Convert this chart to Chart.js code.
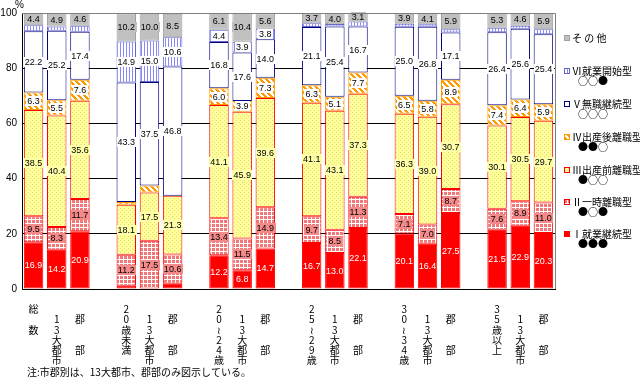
<!DOCTYPE html>
<html>
<head>
<meta charset="utf-8">
<script src="https://cdn.jsdelivr.net/npm/chart.js@4.4.0/dist/chart.umd.min.js"></script>
<style>
  html, body { margin: 0; padding: 0; background: #fff; }
  #wrap { width: 640px; height: 377px; position: relative; }
</style>
</head>
<body>
<div id="wrap"><canvas id="c" width="640" height="377"></canvas></div>
<script>
// 区分 (縦書きラベル, 3本ずつ6グループ)
const categories = [
  ['総', '', '数'], ['', '1', '3', '大', '都', '市'], ['', '郡', '', '', '部'],
  ['2', '0', '歳', '未', '満'], ['', '1', '3', '大', '都', '市'], ['', '郡', '', '', '部'],
  ['2', '0', '≀', '2', '4', '歳'], ['', '1', '3', '大', '都', '市'], ['', '郡', '', '', '部'],
  ['2', '5', '≀', '2', '9', '歳'], ['', '1', '3', '大', '都', '市'], ['', '郡', '', '', '部'],
  ['3', '0', '≀', '3', '4', '歳'], ['', '1', '3', '大', '都', '市'], ['', '郡', '', '', '部'],
  ['3', '5', '歳', '以', '上'], ['', '1', '3', '大', '都', '市'], ['', '郡', '', '', '部']
];
const yTicks = [0, 20, 40, 60, 80, 100];

// 系列 (下から)
const type1 = [16.9, 14.2, 20.9, 1.2, 0.0, 1.9, 12.2, 6.8, 14.7, 16.7, 13.0, 22.1, 20.1, 16.4, 27.5, 21.5, 22.9, 20.3];
const type2 = [9.5, 8.3, 11.7, 11.2, 17.5, 10.6, 13.4, 11.5, 14.9, 9.7, 8.5, 11.3, 7.1, 7.0, 8.7, 7.6, 8.9, 11.0];
const type3 = [38.5, 40.4, 35.6, 18.1, 17.5, 21.3, 41.1, 45.9, 39.6, 41.1, 43.1, 37.3, 36.3, 39.0, 30.7, 30.1, 30.5, 29.7];
const type4 = [6.3, 5.5, 7.6, 1.0, 2.5, 0.0, 6.0, 3.9, 7.3, 6.3, 5.1, 7.7, 6.5, 5.8, 8.9, 7.4, 6.4, 5.9];
const type5 = [22.2, 25.2, 17.4, 43.3, 37.5, 46.8, 16.8, 17.6, 14.0, 21.1, 25.4, 16.7, 25.0, 26.8, 17.1, 26.4, 25.6, 25.4];
const type6 = [2.2, 1.5, 2.2, 14.9, 15.0, 10.6, 4.4, 3.9, 3.8, 1.4, 0.9, 1.8, 1.1, 0.9, 1.2, 1.7, 1.1, 1.8];
const other = [4.4, 4.9, 4.6, 10.2, 10.0, 8.5, 6.1, 10.4, 5.6, 3.7, 4.0, 3.1, 3.9, 4.1, 5.9, 5.3, 4.6, 5.9];

const seriesNames = ['Ⅰ就業継続型', 'Ⅱ一時離職型', 'Ⅲ出産前離職型', 'Ⅳ出産後離職型', 'Ⅴ無職継続型', 'Ⅵ就業開始型', 'そ の 他'];
const seriesMarks = ['●●●', '●○●', '●○○', '●●○', '○○○', '○○●', ''];

// グループの間に空きを入れる
function withGaps(arr, blank) {
  const out = [];
  arr.forEach((v, i) => {
    if (i > 0 && i % 3 === 0) out.push(blank);
    out.push(v);
  });
  return out;
}

function makePattern(w, h, draw) {
  const t = document.createElement('canvas');
  t.width = w; t.height = h;
  const g = t.getContext('2d');
  draw(g);
  return g.createPattern(t, 'repeat');
}

const patGrid = makePattern(4, 4, g => {
  g.fillStyle = '#f07878'; g.fillRect(0, 0, 4, 4);
  g.fillStyle = '#ffffff'; g.fillRect(0, 3, 4, 1); g.fillRect(3, 0, 1, 4);
});
const patDots = makePattern(4, 4, g => {
  g.fillStyle = '#ffff99'; g.fillRect(0, 0, 4, 4);
  g.fillStyle = '#e8dc78'; g.fillRect(0, 0, 1, 1); g.fillRect(2, 2, 1, 1);
});
const patDiag = makePattern(6, 6, g => {
  g.fillStyle = '#ffffff'; g.fillRect(0, 0, 6, 6);
  g.fillStyle = '#ff9900';
  for (let y = 0; y < 6; y++) for (let x = 0; x < 6; x++) {
    if (((x - y) % 6 + 6) % 6 < 3) g.fillRect(x, y, 1, 1);
  }
});
const patVert = makePattern(3, 1, g => {
  g.fillStyle = '#ffffff'; g.fillRect(0, 0, 3, 1);
  g.fillStyle = '#8888ff'; g.fillRect(0, 0, 1, 1);
});

const fills   = ['#ff0000', patGrid, patDots, patDiag, '#ffffff', patVert, '#c0c0c0'];
const borders = ['#ff0000', '#ff0000', '#ff0000', '#ff9900', '#000080', '#6666cc', '#a0a0a0'];
const labelBg = [null, '#f48a8a', '#ffffa8', '#ffffff', '#ffffff', '#ffffff', '#c0c0c0'];
const labelFg = ['#ffffff', '#000', '#000', '#000', '#000', '#000', '#000'];
const legendY = [234, 202, 170, 137, 104, 71, 38];

const values = [type1, type2, type3, type4, type5, type6, other];

const valueLabels = {
  id: 'valueLabels',
  afterDatasetsDraw(chart) {
    const ctx = chart.ctx;
    ctx.save();
    ctx.font = '9px "Liberation Sans", Arial, sans-serif';
    ctx.textAlign = 'center';
    ctx.textBaseline = 'middle';
    chart.data.datasets.forEach((ds, i) => {
      const meta = chart.getDatasetMeta(i);
      meta.data.forEach((el, j) => {
        const v = ds.data[j];
        if (v == null || v < 3) return;
        const cy = (el.y + el.base) / 2;
        const txt = v.toFixed(1);
        const w = ctx.measureText(txt).width;
        if (labelBg[i]) {
          ctx.fillStyle = labelBg[i];
          ctx.fillRect(Math.round(el.x - w / 2 - 1), Math.round(cy - 5), Math.round(w + 2), 10);
        }
        ctx.fillStyle = labelFg[i];
        ctx.fillText(txt, el.x, cy + 0.5);
      });
    });
    ctx.restore();
  }
};

const decorations = {
  id: 'decorations',
  afterDraw(chart) {
    const ctx = chart.ctx;
    const a = chart.chartArea;
    ctx.save();
    // 枠
    ctx.strokeStyle = '#808080';
    ctx.lineWidth = 1;
    ctx.beginPath();
    ctx.moveTo(a.left, a.top + 0.5);
    ctx.lineTo(a.right + 0.5, a.top + 0.5);
    ctx.lineTo(a.right + 0.5, a.bottom);
    ctx.stroke();

    ctx.fillStyle = '#000';
    ctx.font = '10px "Liberation Sans", Arial, sans-serif';
    ctx.textAlign = 'left';
    ctx.textBaseline = 'middle';
    ctx.fillText('%', 15, 5);

    // 凡例
    ctx.font = '10px "Noto Sans CJK JP", sans-serif';
    seriesNames.forEach((name, i) => {
      const y = legendY[i];
      ctx.fillStyle = fills[i];
      ctx.fillRect(564, y - 3, 6, 6);
      ctx.strokeStyle = borders[i];
      ctx.strokeRect(564.5, y - 2.5, 5, 5);
      ctx.fillStyle = '#000';
      ctx.fillText(name, 572, y);
      if (seriesMarks[i]) ctx.fillText(seriesMarks[i], 578, y + 10.5);
    });

    // 注
    ctx.fillText('注:市郡別は、13大都市、郡部のみ図示している。', 27, 372);
    ctx.restore();
  }
};

new Chart(document.getElementById('c'), {
  type: 'bar',
  data: {
    labels: withGaps(categories, ''),
    datasets: values.map((arr, i) => ({
      label: seriesNames[i],
      data: withGaps(arr, null),
      backgroundColor: fills[i],
      borderColor: borders[i],
      borderWidth: 1,
      borderSkipped: false,
      barPercentage: 1,
      categoryPercentage: 0.84
    }))
  },
  options: {
    responsive: false,
    animation: false,
    events: [],
    layout: { padding: { left: 0, right: 85, top: 13, bottom: 0 } },
    plugins: {
      legend: { display: false },
      tooltip: { enabled: false }
    },
    scales: {
      x: {
        stacked: true,
        grid: { display: false },
        border: { display: true, color: '#000' },
        ticks: {
          color: '#000',
          autoSkip: false,
          maxRotation: 0,
          minRotation: 0,
          padding: 7,
          font: { family: '"Noto Sans CJK JP", sans-serif', size: 10, lineHeight: 1.03 }
        },
        afterFit(s) { s.height = 88; }
      },
      y: {
        stacked: true,
        min: 0,
        max: 100,
        afterBuildTicks(s) { s.ticks = yTicks.map(v => ({ value: v })); },
        grid: {
          drawTicks: false,
          color: c => (c.tick.value === 100 ? '#808080' : '#000')
        },
        border: { display: true, color: '#000' },
        ticks: {
          color: '#000',
          padding: 5,
          font: { family: '"Liberation Sans", Arial, sans-serif', size: 10 }
        },
        afterFit(s) { s.width = 22; }
      }
    }
  },
  plugins: [valueLabels, decorations]
});
</script>
</body>
</html>
